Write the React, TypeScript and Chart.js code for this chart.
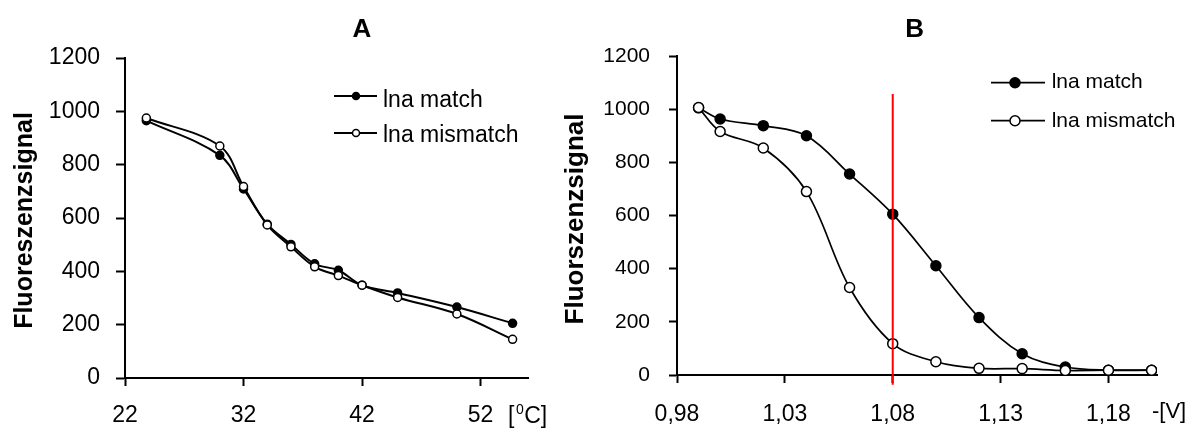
import React, { useEffect, useRef } from "react";
import { Chart, registerables } from "chart.js";

Chart.register(...registerables);

// ---------- Data ----------
const seriesNames = ["lna match", "lna mismatch"];

// Panel A: temperature [°C]
const tempC = [23.8, 30, 32, 34, 36, 38, 40, 42, 45, 50, 54.7];
const matchA = [965, 835, 709, 577, 501, 428, 404, 348, 319, 266, 205];
const mismatchA = [975, 870, 718, 574, 492, 417, 384, 348, 302, 240, 145];
const tempTicks = [22, 32, 42, 52];

// Panel B: voltage -[V]
const voltage = [0.99, 1.0, 1.02, 1.04, 1.06, 1.08, 1.1, 1.12, 1.14, 1.16, 1.18, 1.2];
const matchB = [1005, 963, 938, 900, 756, 605, 411, 216, 80, 30, 18, 18];
const mismatchB = [1006, 916, 854, 690, 329, 118, 50, 25, 24, 17, 18, 18];
const voltageTicks = [0.98, 1.03, 1.08, 1.13, 1.18];
const thresholdV = 1.08;
const thresholdSpan = [1057, -37];

const yTicks = [0, 200, 400, 600, 800, 1000, 1200];

const FONT = "'Liberation Sans', Arial, Helvetica, sans-serif";

type PanelSpec = {
  xs: number[];
  match: number[];
  mismatch: number[];
  xMin: number;
  xMax: number;
  xTicks: number[];
  fmt: (v: number) => string;
  padding: { left: number; top: number; right: number; bottom: number };
  yWidth: number;
  xHeight: number;
  xTickFont: number;
  yTickFont: number;
  xTickPad: number;
  yTickPad: number;
  yTickLen: number;
  pointR: number;
  lineW: number;
  threshold?: boolean;
  decorate: (chart: any, ctx: CanvasRenderingContext2D) => void;
};

function toPts(xs: number[], ys: number[]) {
  return xs.map((x, i) => ({ x, y: ys[i] }));
}

function drawLegend(
  ctx: CanvasRenderingContext2D,
  x0: number,
  x1: number,
  mx: number,
  tx: number,
  rowsY: number[],
  baselines: number[],
  r: number,
  fontSize: number,
  lw: number
) {
  seriesNames.forEach((name, i) => {
    const y = rowsY[i];
    ctx.strokeStyle = "#000";
    ctx.lineWidth = lw;
    ctx.beginPath();
    ctx.moveTo(x0, y);
    ctx.lineTo(x1, y);
    ctx.stroke();
    ctx.beginPath();
    ctx.arc(mx, y, r, 0, Math.PI * 2);
    ctx.fillStyle = i === 0 ? "#000" : "#fff";
    ctx.fill();
    ctx.lineWidth = 1.5;
    ctx.stroke();
    ctx.fillStyle = "#000";
    ctx.font = `${fontSize}px ${FONT}`;
    ctx.textAlign = "left";
    ctx.textBaseline = "alphabetic";
    ctx.fillText(name, tx, baselines[i]);
  });
}

function drawYTitle(ctx: CanvasRenderingContext2D, text: string, bx: number, cy: number, size: number) {
  ctx.save();
  ctx.translate(bx, cy);
  ctx.rotate(-Math.PI / 2);
  ctx.font = `bold ${size}px ${FONT}`;
  ctx.fillStyle = "#000";
  ctx.textAlign = "center";
  ctx.textBaseline = "alphabetic";
  ctx.fillText(text, 0, 0);
  ctx.restore();
}

function drawTitle(ctx: CanvasRenderingContext2D, text: string, cx: number, by: number) {
  ctx.font = `bold 26px ${FONT}`;
  ctx.fillStyle = "#000";
  ctx.textAlign = "center";
  ctx.textBaseline = "alphabetic";
  ctx.fillText(text, cx, by);
}

const specA: PanelSpec = {
  xs: tempC,
  match: matchA,
  mismatch: mismatchA,
  xMin: 22,
  xMax: 56,
  xTicks: tempTicks,
  fmt: (v) => String(v),
  padding: { left: 0, top: 58, right: 32, bottom: 0 },
  yWidth: 125,
  xHeight: 52,
  xTickFont: 23,
  yTickFont: 23,
  xTickPad: 16,
  yTickPad: 16,
  yTickLen: 9,
  pointR: 4,
  lineW: 2,
  decorate: (chart, ctx) => {
    drawTitle(ctx, "A", 362, 37);
    drawYTitle(ctx, "Fluoreszenzsignal", 31.5, 220.5, 25);
    drawLegend(ctx, 334, 377, 356, 383, [96, 133], [106.7, 141.7], 3.5, 23, 2);
    // unit [°C] with superscript 0
    ctx.fillStyle = "#000";
    ctx.textAlign = "left";
    ctx.textBaseline = "alphabetic";
    let x = 508;
    ctx.font = `23px ${FONT}`;
    ctx.fillText("[", x, 423);
    x += ctx.measureText("[").width + 1.5;
    ctx.font = `14px ${FONT}`;
    ctx.fillText("0", x, 414);
    x += ctx.measureText("0").width + 0.5;
    ctx.font = `23px ${FONT}`;
    ctx.fillText("C]", x, 423);
  },
};

const specB: PanelSpec = {
  xs: voltage,
  match: matchB,
  mismatch: mismatchB,
  xMin: 0.98,
  xMax: 1.2025,
  xTicks: voltageTicks,
  fmt: (v) => v.toFixed(2).replace(".", ","),
  padding: { left: 0, top: 56, right: 41, bottom: 0 },
  yWidth: 117,
  xHeight: 55,
  xTickFont: 23,
  yTickFont: 21,
  xTickPad: 18,
  yTickPad: 19,
  yTickLen: 8,
  pointR: 5,
  lineW: 1.7,
  threshold: true,
  decorate: (chart, ctx) => {
    drawTitle(ctx, "B", 354.7, 37);
    drawYTitle(ctx, "Fluorszenzsignal", 22.5, 219, 26);
    drawLegend(ctx, 431, 485, 455, 491.7, [82.7, 120.7], [88.3, 126.7], 5, 21, 1.7);
    ctx.fillStyle = "#000";
    ctx.textAlign = "left";
    ctx.textBaseline = "alphabetic";
    ctx.font = `22px ${FONT}`;
    ctx.fillText("-[V]", 592, 417.5);
  },
};

function buildConfig(s: PanelSpec): any {
  const datasets: any[] = [
    {
      label: seriesNames[0],
      data: toPts(s.xs, s.match),
      borderColor: "#000",
      borderWidth: s.lineW,
      backgroundColor: "#000",
      pointBackgroundColor: "#000",
      pointBorderColor: "#000",
      pointBorderWidth: 1.5,
      pointRadius: s.pointR,
      tension: 0.35,
      fill: false,
      order: 3,
    },
    {
      label: seriesNames[1],
      data: toPts(s.xs, s.mismatch),
      borderColor: "#000",
      borderWidth: s.lineW,
      backgroundColor: "#fff",
      pointBackgroundColor: "#fff",
      pointBorderColor: "#000",
      pointBorderWidth: 1.5,
      pointRadius: s.pointR,
      tension: 0.35,
      fill: false,
      order: 2,
    },
  ];
  if (s.threshold) {
    datasets.push({
      label: "threshold",
      data: thresholdSpan.map((y) => ({ x: thresholdV, y })),
      borderColor: "#ff0000",
      borderWidth: 2,
      pointRadius: 0,
      tension: 0,
      fill: false,
      clip: false,
      order: 1,
    });
  }
  const tickFont = (size: number) => ({ family: FONT, size });
  return {
    type: "line",
    data: { datasets },
    options: {
      animation: false,
      responsive: false,
      maintainAspectRatio: false,
      layout: { padding: s.padding },
      plugins: {
        legend: { display: false },
        title: { display: false },
        tooltip: { enabled: false },
      },
      scales: {
        x: {
          type: "linear",
          min: s.xMin,
          max: s.xMax,
          afterBuildTicks: (sc: any) => {
            sc.ticks = s.xTicks.map((v) => ({ value: v }));
          },
          afterFit: (sc: any) => {
            sc.height = s.xHeight;
          },
          border: { display: true, color: "#000", width: 2 },
          grid: {
            display: true,
            drawOnChartArea: false,
            drawTicks: true,
            tickLength: 8,
            tickWidth: 2,
            tickColor: "#000",
            color: "#000",
          },
          ticks: {
            color: "#000",
            font: tickFont(s.xTickFont),
            padding: s.xTickPad,
            maxRotation: 0,
            autoSkip: false,
            callback: (v: any) => s.fmt(Number(v)),
          },
        },
        y: {
          type: "linear",
          min: 0,
          max: 1200,
          afterBuildTicks: (sc: any) => {
            sc.ticks = yTicks.map((v) => ({ value: v }));
          },
          afterFit: (sc: any) => {
            sc.width = s.yWidth;
          },
          border: { display: true, color: "#000", width: 2 },
          grid: {
            display: true,
            drawOnChartArea: false,
            drawTicks: true,
            tickLength: s.yTickLen,
            tickWidth: 2,
            tickColor: "#000",
            color: "#000",
          },
          ticks: {
            color: "#000",
            font: tickFont(s.yTickFont),
            padding: s.yTickPad,
            autoSkip: false,
            callback: (v: any) => String(v),
          },
        },
      },
    },
    plugins: [
      {
        id: "decor",
        afterDraw(chart: any) {
          const ctx = chart.ctx as CanvasRenderingContext2D;
          ctx.save();
          s.decorate(chart, ctx);
          ctx.restore();
        },
      },
    ],
  };
}

function Panel({ spec, left, width }: { spec: PanelSpec; left: number; width: number }) {
  const ref = useRef<HTMLCanvasElement | null>(null);
  useEffect(() => {
    if (!ref.current) return;
    const chart = new Chart(ref.current, buildConfig(spec));
    return () => chart.destroy();
  }, [spec]);
  return (
    <div style={{ position: "absolute", left, top: 0, width, height: 430 }}>
      <canvas ref={ref} width={width} height={430} style={{ display: "block", width, height: 430 }} />
    </div>
  );
}

export default function App() {
  return (
    <div
      style={{
        position: "absolute",
        left: 0,
        top: 0,
        width: 1198,
        height: 430,
        background: "#fff",
        overflow: "hidden",
      }}
    >
      <Panel spec={specA} left={0} width={560} />
      <Panel spec={specB} left={560} width={638} />
    </div>
  );
}
